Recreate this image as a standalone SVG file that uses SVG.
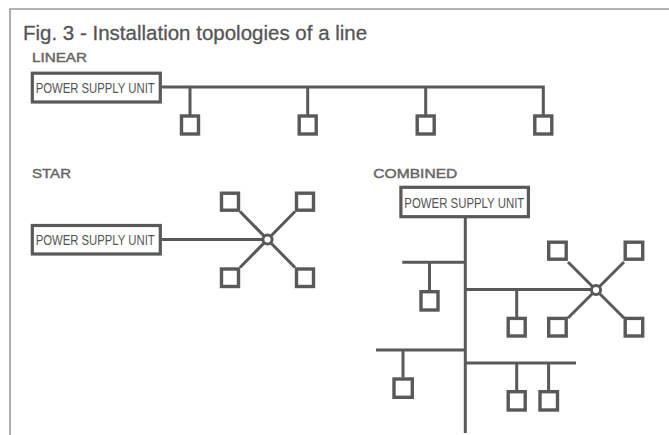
<svg xmlns="http://www.w3.org/2000/svg" width="669" height="435" viewBox="0 0 669 435">
<style>
.frame{fill:none;stroke:#9a9a9a;stroke-width:1.6}
.title{font-family:"Liberation Sans",Arial,sans-serif;font-size:20.5px;fill:#555;stroke:#555;stroke-width:0.3}
.lbl{font-family:"Liberation Sans",Arial,sans-serif;font-size:13.5px;fill:#666;stroke:#666;stroke-width:0.45}
.psu rect{fill:#fff;stroke:#595959;stroke-width:3.2}
.psu text{font-family:"Liberation Sans",Arial,sans-serif;font-size:14.5px;fill:#555}
.dev{fill:#fff;stroke:#595959;stroke-width:3.4}
.hub{fill:#fff;stroke:#595959;stroke-width:3}
#connectors path{fill:none;stroke:#595959;stroke-width:3;stroke-linejoin:miter;stroke-linecap:butt}
</style>
<rect width="669" height="435" fill="#fff"/>
<path class="frame" d="M10,435 V9 H669"/>
<text class="title" x="23" y="40">Fig. 3 - Installation topologies of a line</text>
<text class="lbl" x="32" y="61.5" textLength="55" lengthAdjust="spacingAndGlyphs">LINEAR</text>
<text class="lbl" x="32" y="178.3" textLength="39" lengthAdjust="spacingAndGlyphs">STAR</text>
<text class="lbl" x="373.3" y="178.3" textLength="84" lengthAdjust="spacingAndGlyphs">COMBINED</text>

<g id="connectors">
  <path d="M161.5,87 H543.3 V115"/>
  <path d="M190,87 V115 M307.7,87 V115 M425.7,87 V115"/>
  <path d="M161.5,239.5 H263"/>
  <path d="M267.5,239.5 L240,211.5 M267.5,239.5 L295,211.5 M267.5,239.5 L240,267.5 M267.5,239.5 L295,267.5"/>
  <path d="M465.3,218 V433"/>
  <path d="M402.3,262.3 H465.3 M429.5,262.3 V290"/>
  <path d="M465.3,289.5 H591.5 M516.7,289.5 V317"/>
  <path d="M376,350 H465.3 M403,350 V377.5"/>
  <path d="M465.3,363 H576 M516.7,363 V390 M548.6,363 V390"/>
  <path d="M596,290 L568,262 M596,290 L624,262 M596,290 L568,318 M596,290 L624,318"/>
</g>

<g id="psu-linear" class="psu"><rect x="32.3" y="73.2" width="128" height="28.8"/><text x="35.7" y="93.3" textLength="119" lengthAdjust="spacingAndGlyphs">POWER SUPPLY UNIT</text></g>
<g id="dev-l1"><rect class="dev" x="181.5" y="116" width="17" height="18"/></g>
<g id="dev-l2"><rect class="dev" x="299.2" y="116" width="17" height="18"/></g>
<g id="dev-l3"><rect class="dev" x="417.2" y="116" width="17" height="18"/></g>
<g id="dev-l4"><rect class="dev" x="534.8" y="116" width="17" height="18"/></g>

<g id="psu-star" class="psu"><rect x="32.3" y="225.5" width="128" height="28.5"/><text x="35.7" y="245" textLength="119" lengthAdjust="spacingAndGlyphs">POWER SUPPLY UNIT</text></g>
<g id="hub-star"><circle class="hub" cx="267.5" cy="239.5" r="4.6"/></g>
<g id="dev-s1"><rect class="dev" x="221.5" y="193.2" width="17" height="17"/></g>
<g id="dev-s2"><rect class="dev" x="296.5" y="193.2" width="17" height="17"/></g>
<g id="dev-s3"><rect class="dev" x="221.5" y="269" width="17" height="17.5"/></g>
<g id="dev-s4"><rect class="dev" x="296.5" y="269" width="17" height="17.5"/></g>

<g id="psu-combined" class="psu"><rect x="400.9" y="187.3" width="127.5" height="29.4"/><text x="404.3" y="208.3" textLength="120" lengthAdjust="spacingAndGlyphs">POWER SUPPLY UNIT</text></g>
<g id="dev-c1"><rect class="dev" x="421" y="291.7" width="17" height="18.3"/></g>
<g id="dev-c2"><rect class="dev" x="508.2" y="318.4" width="17" height="17.6"/></g>
<g id="hub-combined"><circle class="hub" cx="596" cy="290" r="4.6"/></g>
<g id="dev-c3"><rect class="dev" x="548.7" y="242.2" width="17.5" height="17"/></g>
<g id="dev-c4"><rect class="dev" x="625.2" y="242.2" width="17.5" height="17"/></g>
<g id="dev-c5"><rect class="dev" x="548.7" y="318.4" width="17.5" height="17.6"/></g>
<g id="dev-c6"><rect class="dev" x="625.2" y="318.4" width="17.5" height="17.6"/></g>
<g id="dev-c7"><rect class="dev" x="394" y="379" width="18.3" height="18.3"/></g>
<g id="dev-c8"><rect class="dev" x="508.2" y="391.7" width="17" height="18.3"/></g>
<g id="dev-c9"><rect class="dev" x="540" y="391.7" width="17.5" height="18.3"/></g>
</svg>
